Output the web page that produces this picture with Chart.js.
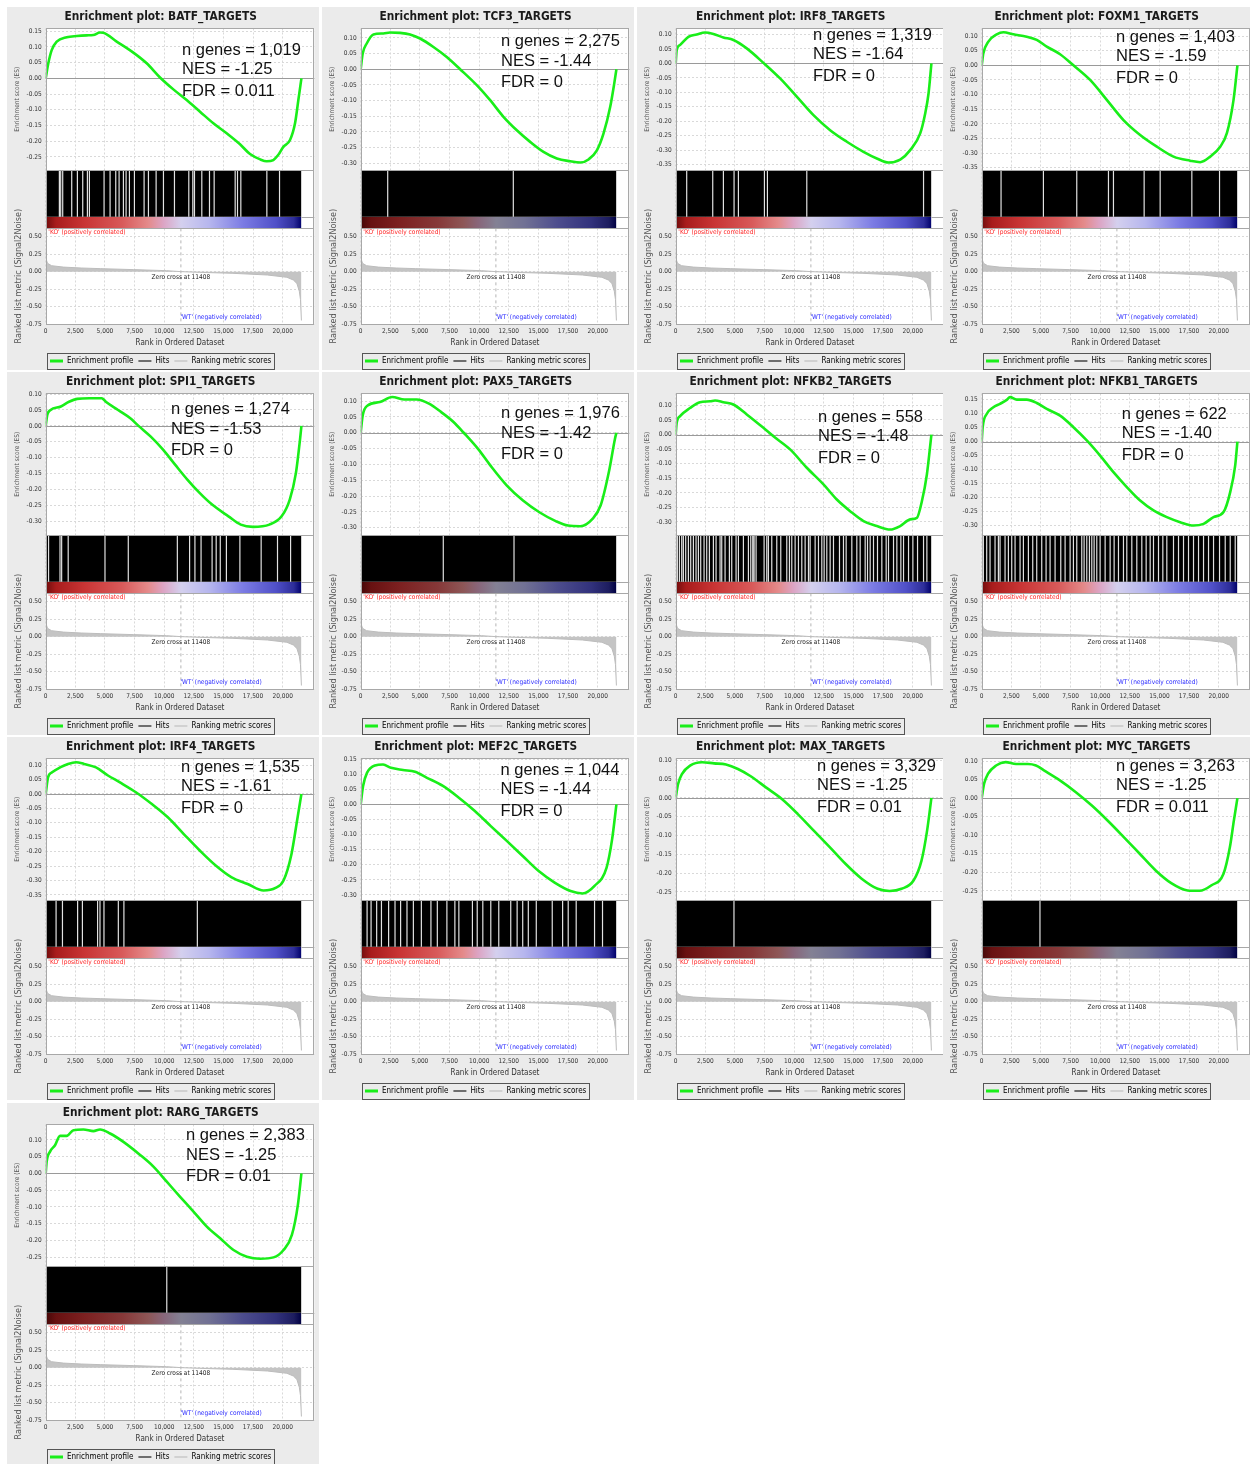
<!DOCTYPE html>
<html>
<head>
<meta charset="utf-8">
<script src="https://cdn.jsdelivr.net/npm/chart.js@4.4.0/dist/chart.umd.min.js"></script>
<style>
html,body{margin:0;padding:0;background:#fff;overflow:hidden;width:1250px;height:1464px;position:relative;}
.panel{position:absolute;width:312px;height:363px;background:#ebebeb;overflow:hidden;}
.panel canvas{display:block;}
</style>
</head>
<body>
<script>
// ---------------- DATA ----------------
const panelNames = ['BATF_TARGETS','TCF3_TARGETS','IRF8_TARGETS','FOXM1_TARGETS','SPI1_TARGETS','PAX5_TARGETS','NFKB2_TARGETS','NFKB1_TARGETS','IRF4_TARGETS','MEF2C_TARGETS','MAX_TARGETS','MYC_TARGETS','RARG_TARGETS'];
const nGenes = [1019, 2275, 1319, 1403, 1274, 1976, 558, 622, 1535, 1044, 3329, 3263, 2383];
const nesValues = [-1.25, -1.44, -1.64, -1.59, -1.53, -1.42, -1.48, -1.40, -1.61, -1.44, -1.25, -1.25, -1.25];
const fdrLabels = ['0.011','0','0','0','0','0','0','0','0','0','0.01','0.011','0.01'];

const datasetSize = 21580;
const zeroCross = 11408;
const xAxisMax = 22667;
const xTickValues = [0, 2500, 5000, 7500, 10000, 12500, 15000, 17500, 20000];
const rankTickValues = [-0.75, -0.50, -0.25, 0, 0.25, 0.50];
const esTickStep = 0.05;
const rankAxisMin = -0.75;
const rankAxisMax = 0.62;

// ranked list metric (shared by all plots)
const metricRank  = [0, 40, 150, 500, 1500, 3000, 4600, 7400, 10200, 11408, 13000, 15800, 18700, 20350, 20900, 21200, 21400, 21500, 21580];
const metricValue = [0.30, 0.18, 0.12, 0.085, 0.065, 0.052, 0.043, 0.029, 0.014, 0, -0.010, -0.024, -0.048, -0.081, -0.12, -0.17, -0.28, -0.40, -0.70];

// running enrichment scores
const rankBATF = [0, 220, 506, 928, 1772, 2616, 3460, 4020, 4583, 4864, 5990, 7396, 8521, 9647, 10773, 11898, 13023, 14148, 15273, 16399, 17243, 18100, 18652, 19211, 19600, 20054, 20619, 21041, 21322, 21580];
const esBATF   = [0, 0.048, 0.090, 0.117, 0.131, 0.135, 0.137, 0.138, 0.146, 0.145, 0.117, 0.082, 0.048, 0.003, -0.035, -0.069, -0.106, -0.143, -0.175, -0.210, -0.241, -0.258, -0.264, -0.260, -0.245, -0.218, -0.196, -0.143, -0.069, 0];
const rankTCF3 = [0, 169, 507, 1070, 1914, 2477, 3322, 4166, 5011, 6137, 7263, 8389, 9796, 10922, 12048, 13174, 14300, 15426, 16552, 17678, 18523, 19227, 19931, 20494, 21057, 21395, 21580];
const esTCF3   = [0, 0.050, 0.082, 0.111, 0.114, 0.117, 0.116, 0.111, 0.098, 0.071, 0.039, 0, -0.051, -0.099, -0.152, -0.195, -0.232, -0.264, -0.285, -0.294, -0.298, -0.288, -0.259, -0.205, -0.120, -0.046, 0];
const rankIRF8 = [0, 84, 366, 1070, 1773, 2477, 3181, 4025, 4870, 5996, 7403, 8811, 10218, 11626, 13033, 14441, 15848, 16974, 17960, 18945, 19789, 20633, 21055, 21337, 21580];
const esIRF8   = [0, 0.046, 0.064, 0.092, 0.100, 0.107, 0.102, 0.090, 0.081, 0.052, 0.002, -0.052, -0.115, -0.179, -0.231, -0.271, -0.306, -0.329, -0.343, -0.333, -0.300, -0.242, -0.173, -0.104, 0];
const rankFOXM1 = [0, 141, 563, 1267, 1830, 2674, 3800, 4645, 5489, 6615, 7741, 9149, 10556, 11964, 13371, 14779, 16186, 17594, 18438, 19282, 20127, 20690, 21253, 21580];
const esFOXM1   = [0, 0.041, 0.081, 0.106, 0.113, 0.106, 0.098, 0.087, 0.064, 0.038, 0, -0.050, -0.118, -0.187, -0.238, -0.278, -0.312, -0.326, -0.331, -0.312, -0.278, -0.232, -0.118, 0];
const rankSPI1 = [0, 138, 414, 1277, 1967, 2657, 3692, 4727, 5072, 6107, 7142, 7832, 8867, 9902, 10937, 11972, 13007, 14042, 15422, 16457, 17492, 18872, 19907, 20597, 21114, 21459, 21580];
const esSPI1   = [0, 0.035, 0.050, 0.061, 0.076, 0.085, 0.087, 0.087, 0.076, 0.050, 0.024, 0, -0.034, -0.075, -0.123, -0.170, -0.212, -0.248, -0.285, -0.311, -0.318, -0.311, -0.285, -0.232, -0.149, -0.044, 0];
const rankPAX5 = [0, 172, 587, 1622, 2657, 3692, 4727, 5762, 6797, 7832, 8694, 9902, 10937, 12317, 13697, 15077, 16457, 17492, 18527, 19562, 20252, 20942, 21459, 21580];
const esPAX5   = [0, 0.055, 0.086, 0.097, 0.113, 0.105, 0.105, 0.092, 0.065, 0.034, 0, -0.051, -0.103, -0.166, -0.214, -0.251, -0.279, -0.293, -0.295, -0.272, -0.229, -0.124, -0.019, 0];
const rankNFKB2 = [0, 84, 366, 1210, 2055, 2899, 3322, 4025, 4870, 5996, 7403, 8248, 9655, 11063, 12471, 13597, 14723, 15848, 16974, 18100, 18945, 19789, 20352, 20775, 21197, 21580];
const esNFKB2   = [0, 0.040, 0.063, 0.091, 0.111, 0.114, 0.117, 0.111, 0.103, 0.069, 0.023, -0.006, -0.051, -0.114, -0.171, -0.223, -0.263, -0.297, -0.314, -0.326, -0.314, -0.291, -0.286, -0.229, -0.137, 0];
const rankNFKB1 = [0, 84, 422, 985, 1548, 2111, 2393, 2956, 3800, 4645, 5489, 6615, 7741, 8867, 9993, 11119, 12245, 13371, 14497, 15623, 16750, 17876, 18720, 19564, 20408, 20971, 21393, 21580];
const esNFKB1   = [0, 0.051, 0.098, 0.122, 0.134, 0.148, 0.158, 0.149, 0.149, 0.137, 0.116, 0.092, 0.051, 0.004, -0.050, -0.109, -0.162, -0.210, -0.245, -0.269, -0.287, -0.299, -0.293, -0.269, -0.251, -0.180, -0.085, 0];
const rankIRF4 = [0, 202, 539, 1212, 1886, 2559, 3233, 4243, 5253, 6264, 7611, 8958, 10305, 11652, 12999, 14346, 15693, 17040, 18386, 19397, 20070, 20744, 21215, 21580];
const esIRF4   = [0, 0.058, 0.075, 0.092, 0.104, 0.110, 0.104, 0.092, 0.064, 0.040, 0.006, -0.035, -0.081, -0.139, -0.196, -0.248, -0.289, -0.312, -0.335, -0.326, -0.300, -0.208, -0.092, 0];
const rankMEF2C = [0, 202, 539, 1212, 1886, 2559, 3570, 4580, 5590, 6937, 8284, 9631, 10978, 12325, 13672, 15019, 16366, 17713, 18723, 19734, 20744, 21215, 21580];
const esMEF2C   = [0, 0.061, 0.105, 0.129, 0.132, 0.121, 0.114, 0.108, 0.088, 0.061, 0.022, -0.022, -0.072, -0.121, -0.171, -0.221, -0.259, -0.287, -0.295, -0.270, -0.210, -0.116, 0];
const rankMAX = [0, 202, 539, 1212, 2222, 3233, 4243, 5253, 6264, 7611, 8958, 10305, 11652, 12999, 14346, 15693, 17040, 18050, 19060, 20070, 20744, 21215, 21580];
const esMAX   = [0, 0.037, 0.064, 0.086, 0.095, 0.092, 0.089, 0.077, 0.059, 0.028, -0.003, -0.043, -0.087, -0.131, -0.176, -0.215, -0.242, -0.248, -0.242, -0.220, -0.167, -0.087, 0];
const rankMYC = [0, 202, 539, 1212, 2020, 2896, 3906, 4580, 5253, 6600, 7947, 9294, 10641, 11988, 13335, 14682, 16029, 17376, 18386, 19397, 20407, 20946, 21283, 21580];
const esMYC   = [0, 0.039, 0.066, 0.088, 0.097, 0.092, 0.092, 0.088, 0.075, 0.048, 0.016, -0.020, -0.061, -0.105, -0.150, -0.195, -0.230, -0.249, -0.250, -0.235, -0.204, -0.132, -0.060, 0];
const rankRARG = [0, 84, 366, 788, 1210, 1773, 2336, 3181, 4025, 4588, 5433, 6559, 7966, 9092, 10218, 11344, 12471, 13597, 14723, 15848, 16974, 18100, 19227, 20071, 20775, 21281, 21580];
const esRARG   = [0, 0.035, 0.065, 0.084, 0.112, 0.112, 0.129, 0.131, 0.126, 0.131, 0.119, 0.094, 0.055, 0.020, -0.025, -0.070, -0.114, -0.159, -0.194, -0.229, -0.249, -0.255, -0.251, -0.229, -0.184, -0.094, 0];

// ranks where the hit area shows a gap (no member gene)
const gapsBATF = [1154, 1267, 1436, 2196, 2674, 3125, 3519, 3688, 4926, 5433, 5912, 6193, 6559, 6784, 7066, 7488, 8304, 8670, 9318, 9937, 10866, 12076, 12414, 12555, 13174, 13822, 14216, 15989, 16186, 16467, 18663, 19733];
const gapsTCF3 = [2279, 12879];
const gapsIRF8 = [929, 3125, 4025, 4926, 5292, 7488, 7741, 11063, 20915];
const gapsFOXM1 = [1633, 5208, 8023, 10697, 11119, 13709, 15060, 17734, 20071];
const gapsSPI1 = [242, 1208, 1346, 1898, 5003, 6969, 11109, 12144, 12593, 13111, 14042, 14387, 14732, 15249, 16388, 18182, 19562, 20666];
const gapsPAX5 = [6969, 12938];
const gapsNFKB2 = [141, 310, 507, 647, 845, 1070, 1267, 1492, 1717, 1914, 2111, 2393, 2618, 2843, 3181, 3406, 3744, 3885, 4166, 4532, 4729, 5095, 5292, 5714, 6137, 6334, 6503, 6615, 6784, 7460, 7685, 7826, 8107, 8530, 8867, 9374, 9599, 9796, 10078, 10359, 10641, 10922, 11204, 11345, 11767, 12048, 12330, 12527, 12752, 13033, 13315, 13822, 14159, 14384, 14863, 15285, 15567, 15989, 16186, 16411, 16692, 17030, 17396, 17762, 17959, 18382, 18663, 19001, 19227, 19649, 20015, 20409, 20915, 21197];
const gapsNFKB1 = [141, 422, 704, 1126, 1408, 1548, 1971, 2252, 2534, 2815, 3237, 3519, 3941, 4307, 4645, 5067, 5433, 5771, 6193, 6672, 7038, 7460, 7741, 8023, 8445, 8642, 8867, 9092, 9290, 9487, 9712, 9993, 10416, 10838, 11176, 11542, 11964, 12245, 12668, 13090, 13512, 13878, 14216, 14497, 14920, 15286, 15623, 16186, 16609, 17031, 17453, 17875, 18298, 18720, 19142, 19564, 20071, 20550, 20972, 21394];
const gapsIRF4 = [876, 1414, 2694, 3098, 4378, 4580, 4917, 6129, 6600, 12797];
const gapsMEF2C = [539, 876, 1347, 1751, 2357, 2896, 3368, 3906, 4445, 5119, 5927, 6466, 7274, 7947, 8284, 9429, 9833, 10305, 10978, 11652, 12662, 13201, 13672, 14144, 14817, 16164, 17040, 17511, 18185, 19734, 20407];
const gapsMAX = [4917];
const gapsMYC = [4917];
const gapsRARG = [10218];

// ES axis limits
const esAxisMin = [-0.292, -0.322, -0.369, -0.358, -0.344, -0.323, -0.345, -0.333, -0.368, -0.317, -0.272, -0.275, -0.277];
const esAxisMax = [0.159, 0.130, 0.121, 0.126, 0.102, 0.124, 0.141, 0.171, 0.123, 0.152, 0.105, 0.107, 0.146];

const esRanks  = [rankBATF, rankTCF3, rankIRF8, rankFOXM1, rankSPI1, rankPAX5, rankNFKB2, rankNFKB1, rankIRF4, rankMEF2C, rankMAX, rankMYC, rankRARG];
const esScores = [esBATF, esTCF3, esIRF8, esFOXM1, esSPI1, esPAX5, esNFKB2, esNFKB1, esIRF4, esMEF2C, esMAX, esMYC, esRARG];
const hitGaps  = [gapsBATF, gapsTCF3, gapsIRF8, gapsFOXM1, gapsSPI1, gapsPAX5, gapsNFKB2, gapsNFKB1, gapsIRF4, gapsMEF2C, gapsMAX, gapsMYC, gapsRARG];

// ---------------- LAYOUT / STYLE ----------------
const colLeft = [7, 322, 637, 943];
const rowTop = [7, 372, 737, 1103];
const statPos = [[175,43],[179,34.5],[176,28],[173,30.3],[164,37.7],[179,41.7],[181,45.3],[178.7,42.3],[174,30],[178.6,33.3],[180,29.3],[173,29.3],[179,32.7]];
const SMALL = "'DejaVu Sans Condensed', 'DejaVu Sans', sans-serif";
const STATF = "'Liberation Sans', Arial, sans-serif";
const GREEN = '#19ee19';
const GRID = '#d9d9d9';
const BOXC = '#a8a8a8';
const colourStops = [[0,'#700c0c'],[0.04,'#a81c1c'],[0.15,'#c83434'],[0.30,'#d85a5a'],[0.40,'#e48a8a'],[0.46,'#dca4c4'],[0.53,'#d4d0ee'],[0.64,'#b6b6ee'],[0.77,'#7c7ce4'],[0.90,'#5050c8'],[0.97,'#2e2e9a'],[1,'#00006a']];

function darken(hex, f){
  const n = parseInt(hex.slice(1),16);
  const r = Math.round(((n>>16)&255)*(1-f)), g = Math.round(((n>>8)&255)*(1-f)), b = Math.round((n&255)*(1-f));
  return 'rgb('+r+','+g+','+b+')';
}
function colourBar(chart, shade){
  const a = chart.chartArea;
  if(!a) return '#888';
  const xs = chart.scales.x;
  const x0 = xs.getPixelForValue(0), x1 = xs.getPixelForValue(datasetSize);
  const g = chart.ctx.createLinearGradient(x0, 0, x1, 0);
  colourStops.forEach(s => g.addColorStop(s[0], darken(s[1], shade)));
  return g;
}
const fmt2 = v => (Math.abs(v) < 1e-9 ? 0 : v).toFixed(2);
function esTicks(s){
  const out = [];
  for (let k = Math.ceil(s.min / esTickStep - 1e-6); k * esTickStep <= s.max + 1e-6; k++) out.push({value: Math.round(k * esTickStep * 100) / 100});
  s.ticks = out;
}

const legendItems = [
  {text:'Enrichment profile', fillStyle:GREEN, strokeStyle:GREEN, lineWidth:3, pointStyle:'line', hidden:false, datasetIndex:0},
  {text:'Hits', fillStyle:'#444', strokeStyle:'#444', lineWidth:1.5, pointStyle:'line', hidden:false, datasetIndex:2},
  {text:'Ranking metric scores', fillStyle:'#c8c8c8', strokeStyle:'#c8c8c8', lineWidth:1.5, pointStyle:'line', hidden:false, datasetIndex:5}
];

const gseaPlugin = {
  id: 'gsea',
  beforeDraw(chart){
    const {ctx, chartArea:a} = chart;
    ctx.save();
    ctx.fillStyle = '#ebebeb';
    ctx.fillRect(0,0,chart.width,chart.height);
    ctx.fillStyle = '#fff';
    ctx.fillRect(a.left, a.top, a.width, a.height);
    ctx.restore();
  },
  beforeDatasetsDraw(chart){
    const {ctx, chartArea:a} = chart;
    const y0 = Math.round(chart.scales.yES.getPixelForValue(0)) + 0.5;
    ctx.save();
    ctx.strokeStyle = '#9a9a9a'; ctx.lineWidth = 1;
    ctx.beginPath(); ctx.moveTo(a.left, y0); ctx.lineTo(a.right, y0); ctx.stroke();
    ctx.restore();
  },
  afterDatasetsDraw(chart){
    const {ctx, chartArea:a} = chart;
    const i = chart.options.panelIndex;
    const xs = chart.scales.x, yH = chart.scales.yHits, yR = chart.scales.yRank;
    ctx.save();
    ctx.strokeStyle = BOXC; ctx.lineWidth = 1;
    ['yES','yHits','yRank'].forEach(id => {
      const s = chart.scales[id];
      ctx.strokeRect(Math.round(a.left)+0.5, Math.round(s.top)+0.5, Math.round(a.right)-Math.round(a.left)-1, Math.round(s.bottom)-Math.round(s.top));
    });
    const ys = Math.round(yH.getPixelForValue(0.2)) + 0.5;
    ctx.beginPath(); ctx.moveTo(xs.getPixelForValue(datasetSize), ys); ctx.lineTo(a.right, ys); ctx.stroke();
    // labels in the ranked-list plot
    ctx.font = '6.5px ' + SMALL;
    ctx.textBaseline = 'middle';
    ctx.textAlign = 'left';
    ctx.fillStyle = '#ff2424';
    ctx.fillText("'KO' (positively correlated)", a.left + 2.6, yR.top + 4.2);
    ctx.textAlign = 'right';
    ctx.fillStyle = '#2a2aff';
    ctx.fillText("'WT' (negatively correlated)", a.left + 216, yR.bottom - 7);
    ctx.textAlign = 'center';
    ctx.fillStyle = '#222';
    ctx.fillText('Zero cross at ' + zeroCross, xs.getPixelForValue(zeroCross), yR.getPixelForValue(0) + 5.5);
    // statistics
    const p = statPos[i];
    ctx.font = '16.5px ' + STATF;
    ctx.textAlign = 'left';
    ctx.fillStyle = '#111';
    ctx.fillText('n genes = ' + nGenes[i].toLocaleString('en-US'), p[0], p[1]);
    ctx.fillText('NES = ' + nesValues[i].toFixed(2), p[0], p[1] + 19.5);
    ctx.fillText('FDR = ' + fdrLabels[i], p[0], p[1] + 41);
    ctx.restore();
  },
  afterDraw(chart){
    const lg = chart.legend;
    if(!lg || !lg.legendHitBoxes || !lg.legendHitBoxes.length) return;
    const hb = lg.legendHitBoxes;
    let l = Infinity, r = -Infinity, t = Infinity, b = -Infinity;
    hb.forEach(h => { l = Math.min(l, h.left); r = Math.max(r, h.left + h.width); t = Math.min(t, h.top); b = Math.max(b, h.top + h.height); });
    const ctx = chart.ctx;
    ctx.save();
    ctx.strokeStyle = '#555'; ctx.lineWidth = 1;
    ctx.strokeRect(Math.round(l - 3) + 0.5, Math.round(t - 4) + 0.5, Math.round(r - l + 6), Math.round(b - t + 8));
    ctx.restore();
  }
};

function makePanel(i){
  const div = document.createElement('div');
  div.className = 'panel';
  div.style.left = colLeft[i % 4] + 'px';
  div.style.top = rowTop[Math.floor(i / 4)] + 'px';
  const canvas = document.createElement('canvas');
  canvas.width = 312; canvas.height = 363;
  div.appendChild(canvas);
  document.body.appendChild(div);

  const ranks = esRanks[i], scores = esScores[i];
  const gapData = [];
  hitGaps[i].forEach(g => { gapData.push({x:g, y:0.2}, {x:g, y:1}, {x:g, y:null}); });
  const shade = nGenes[i] > 1900 ? 0.38 : 0;
  const tickFont = {family: SMALL, size: 6.5};

  new Chart(canvas, {
    type: 'line',
    data: { datasets: [
      {label:'Enrichment profile', data: ranks.map((r,k) => ({x:r, y:scores[k]})), yAxisID:'yES', borderColor:GREEN, borderWidth:2.6, pointRadius:0, cubicInterpolationMode:'monotone', fill:false},
      {label:'Hit gaps', data: gapData, yAxisID:'yHits', borderColor:'rgba(245,245,245,0.92)', borderWidth:1.2, pointRadius:0, fill:false, spanGaps:false},
      {label:'Hits', data:[{x:0, y:1}, {x:datasetSize, y:1}], yAxisID:'yHits', borderWidth:0, borderColor:'#000', backgroundColor:'#000', pointRadius:0, fill:{value:0.2}},
      {label:'Colour bar', data:[{x:0, y:0.2}, {x:datasetSize, y:0.2}], yAxisID:'yHits', borderWidth:0, borderColor:'rgba(0,0,0,0)', pointRadius:0, fill:{value:0}, backgroundColor: c => colourBar(c.chart, shade)},
      {label:'Zero cross', data:[{x:zeroCross, y:rankAxisMax}, {x:zeroCross, y:rankAxisMin}], yAxisID:'yRank', borderColor:'#b5b5b5', borderWidth:1, borderDash:[3,3], pointRadius:0, fill:false},
      {label:'Ranking metric scores', data: metricRank.map((r,k) => ({x:r, y:metricValue[k]})), yAxisID:'yRank', borderColor:'#bcbcbc', borderWidth:1, backgroundColor:'#c4c4c4', pointRadius:0, fill:'origin'}
    ]},
    options: {
      panelIndex: i,
      responsive: false, animation: false, devicePixelRatio: 1,
      events: [],
      layout: {padding: {left:0, right:4.7, top:0, bottom:-5}},
      plugins: {
        title: {display:true, text:'Enrichment plot: ' + panelNames[i], font:{family:SMALL, size:11.8, weight:'bold'}, color:'#1a1a1a', padding:{top:2.5, bottom:4.8}},
        legend: {display:true, position:'bottom', labels:{usePointStyle:true, pointStyleWidth:13, font:{family:SMALL, size:8}, color:'#222', padding:5, generateLabels: () => legendItems}},
        tooltip: {enabled:false}
      },
      scales: {
        x: {type:'linear', position:'bottom', min:0, max:xAxisMax, bounds:'data',
            afterBuildTicks: s => { s.ticks = xTickValues.map(v => ({value:v})); },
            ticks:{font:tickFont, color:'#333', padding:3, maxRotation:0, autoSkip:false, callback: v => Number(v).toLocaleString('en-US')},
            grid:{color:GRID, drawTicks:false}, border:{display:false, dash:[2,2]},
            title:{display:true, text:'Rank in Ordered Dataset', font:{family:SMALL, size:8}, color:'#333', padding:{top:0, bottom:4.2}},
            afterFit: s => { s.height = 28; }},
        yES: {type:'linear', position:'left', stack:'gsea', stackWeight:141.7, weight:3, min:esAxisMin[i], max:esAxisMax[i], bounds:'data',
            afterBuildTicks: esTicks,
            ticks:{font:tickFont, color:'#333', padding:4, autoSkip:false, callback: fmt2},
            grid:{color:GRID, drawTicks:false}, border:{display:false, dash:[2,2]},
            title:{display:true, text:'Enrichment score (ES)', font:{family:SMALL, size:6.5}, color:'#555', padding:{top:6.4, bottom:0}},
            afterFit: s => { s.width = 38.7; }},
        yHits: {type:'linear', position:'left', stack:'gsea', stackWeight:58.3, weight:2, min:0, max:1, bounds:'data',
            ticks:{display:false}, grid:{display:false}, border:{display:false},
            afterFit: s => { s.width = 38.7; }},
        yRank: {type:'linear', position:'left', stack:'gsea', stackWeight:95.7, weight:1, min:rankAxisMin, max:rankAxisMax, bounds:'data',
            afterBuildTicks: s => { s.ticks = rankTickValues.map(v => ({value:v})); },
            ticks:{font:tickFont, color:'#333', padding:4, autoSkip:false, callback: fmt2},
            grid:{color:GRID, drawTicks:false}, border:{display:false, dash:[2,2]},
            title:{display:true, text:'Ranked list metric (Signal2Noise)', font:{family:SMALL, size:9}, color:'#555', padding:{top:5.9, bottom:0}},
            afterFit: s => { s.width = 38.7; }}
      }
    },
    plugins: [gseaPlugin]
  });
}

for (let i = 0; i < panelNames.length; i++) makePanel(i);
</script>
</body>
</html>
